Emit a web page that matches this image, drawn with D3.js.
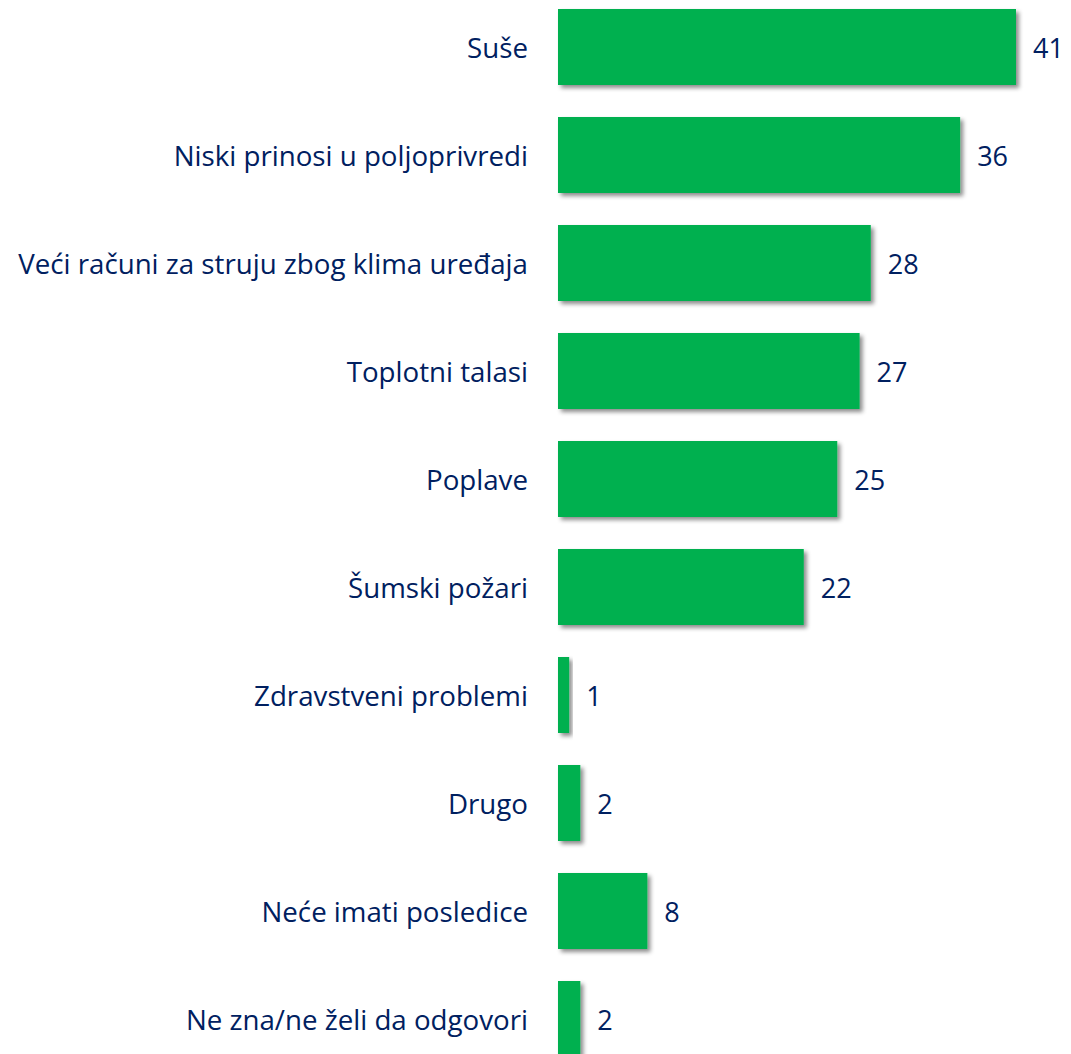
<!DOCTYPE html>
<html>
<head>
<meta charset="utf-8">
<script src="https://cdn.jsdelivr.net/npm/d3@7"></script>
<style>
  html, body { margin: 0; padding: 0; background: #fff; }
  svg { display: block; }
</style>
</head>
<body>
<div id="chart"></div>
<script>
// answers and their shares (%)
const categories = [
    "Suše",
    "Niski prinosi u poljoprivredi",
    "Veći računi za struju zbog klima uređaja",
    "Toplotni talasi",
    "Poplave",
    "Šumski požari",
    "Zdravstveni problemi",
    "Drugo",
    "Neće imati posledice",
    "Ne zna/ne želi da odgovori"
];
const values = [41, 36, 28, 27, 25, 22, 1, 2, 8, 2];

const width = 1071, height = 1054;
const barLeft = 558;

const svg = d3.select("#chart")
    .append("svg")
    .attr("width", width)
    .attr("height", height);

// soft shadow under the bars
const defs = svg.append("defs");
const shadow = defs.append("filter")
    .attr("id", "shadow")
    .attr("x", "-20%").attr("y", "-20%")
    .attr("width", "150%").attr("height", "150%");
shadow.append("feDropShadow")
    .attr("dx", 3).attr("dy", 3)
    .attr("stdDeviation", 2)
    .attr("flood-color", "#000")
    .attr("flood-opacity", 0.45);

const x = d3.scaleLinear()
    .domain([0, 41])
    .range([barLeft, 1016]);

const y = d3.scaleBand()
    .domain(categories)
    .range([9 - 16, 9 - 16 + 108 * categories.length])
    .paddingInner(32 / 108)
    .paddingOuter(16 / 108);

const data = categories.map((c, i) => ({ label: c, value: values[i] }));

svg.selectAll("rect.bar")
    .data(data)
    .enter()
    .append("rect")
        .attr("class", "bar")
        .attr("x", x(0))
        .attr("y", d => y(d.label))
        .attr("width", d => x(d.value) - x(0))
        .attr("height", y.bandwidth())
        .attr("fill", "#00B050")
        .attr("filter", "url(#shadow)");

const font = "Open Sans, Noto Sans, sans-serif";

svg.selectAll("text.cat")
    .data(data)
    .enter()
    .append("text")
        .attr("class", "cat")
        .attr("x", barLeft - 30)
        .attr("y", d => y(d.label) + y.bandwidth() / 2)
        .attr("dy", "0.39em")
        .attr("text-anchor", "end")
        .style("font-family", font)
        .style("font-size", "27.7px")
        .attr("fill", "#002060")
        .text(d => d.label);

svg.selectAll("text.val")
    .data(data)
    .enter()
    .append("text")
        .attr("class", "val")
        .attr("x", d => x(d.value) + 17)
        .attr("y", d => y(d.label) + y.bandwidth() / 2)
        .attr("dy", "0.39em")
        .style("font-family", font)
        .style("font-size", "27px")
        .attr("fill", "#002060")
        .text(d => d.value);
</script>
</body>
</html>
